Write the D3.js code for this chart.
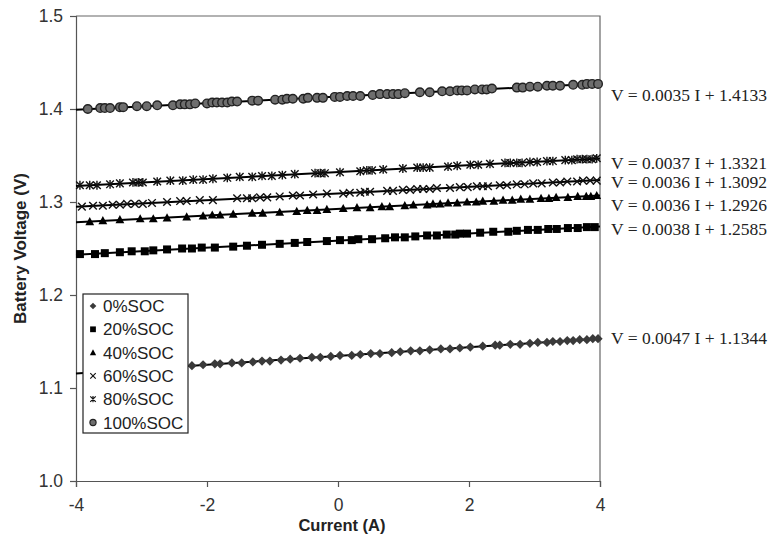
<!DOCTYPE html>
<html>
<head>
<meta charset="utf-8">
<script src="https://cdn.jsdelivr.net/npm/d3@7"></script>
<style>
  html, body { margin: 0; padding: 0; background: #fff; }
  svg { display: block; }
  .tick text { font-family: 'Liberation Sans', Arial, sans-serif; font-size: 17.5px; fill: #333; }
</style>
</head>
<body>
<div id="chart"></div>
<script>
// measured points, current (A) and voltage (V), one pair of arrays per state of charge
const soc0I = [-2.23, -2.06, -1.88, -1.80, -1.62, -1.47, -1.30, -1.16, -1.04, -0.87, -0.73, -0.58, -0.40, -0.27, -0.11, 0.03, 0.21, 0.34, 0.50, 0.64, 0.82, 0.95, 1.11, 1.25, 1.40, 1.57, 1.71, 1.86, 2.02, 2.21, 2.40, 2.47, 2.63, 2.78, 2.93, 3.05, 3.19, 3.28, 3.39, 3.50, 3.59, 3.69, 3.80, 3.89, 3.97];
const soc0V = [1.124, 1.125, 1.126, 1.126, 1.127, 1.127, 1.128, 1.129, 1.129, 1.130, 1.131, 1.132, 1.133, 1.133, 1.134, 1.135, 1.135, 1.136, 1.137, 1.137, 1.138, 1.139, 1.140, 1.140, 1.141, 1.142, 1.142, 1.143, 1.144, 1.145, 1.146, 1.146, 1.147, 1.147, 1.148, 1.149, 1.149, 1.150, 1.150, 1.151, 1.151, 1.152, 1.152, 1.153, 1.153];

const soc20I = [-3.94, -3.71, -3.56, -3.33, -3.15, -2.95, -2.82, -2.61, -2.38, -2.23, -2.08, -1.88, -1.60, -1.39, -1.16, -0.89, -0.66, -0.47, -0.17, 0.03, 0.21, 0.31, 0.52, 0.72, 0.87, 1.02, 1.18, 1.36, 1.51, 1.66, 1.79, 1.86, 1.97, 2.17, 2.37, 2.60, 2.73, 2.90, 3.05, 3.21, 3.34, 3.51, 3.66, 3.80, 3.92];
const soc20V = [1.244, 1.244, 1.245, 1.246, 1.247, 1.247, 1.248, 1.249, 1.250, 1.250, 1.251, 1.251, 1.252, 1.253, 1.254, 1.255, 1.256, 1.257, 1.258, 1.259, 1.259, 1.260, 1.260, 1.261, 1.262, 1.262, 1.263, 1.264, 1.264, 1.265, 1.265, 1.266, 1.266, 1.267, 1.268, 1.268, 1.269, 1.270, 1.270, 1.271, 1.271, 1.272, 1.272, 1.273, 1.273];

const soc40I = [-3.79, -3.59, -3.33, -3.02, -2.82, -2.61, -2.31, -2.06, -1.92, -1.80, -1.60, -1.31, -1.15, -0.89, -0.63, -0.47, -0.32, -0.17, 0.08, 0.29, 0.49, 0.67, 0.79, 1.02, 1.15, 1.36, 1.45, 1.56, 1.68, 1.82, 1.97, 2.11, 2.21, 2.38, 2.52, 2.66, 2.79, 2.93, 3.10, 3.22, 3.33, 3.51, 3.66, 3.79, 3.86, 3.95];
const soc40V = [1.279, 1.280, 1.281, 1.282, 1.282, 1.283, 1.284, 1.285, 1.286, 1.286, 1.287, 1.288, 1.288, 1.289, 1.290, 1.291, 1.291, 1.292, 1.293, 1.294, 1.294, 1.295, 1.295, 1.296, 1.297, 1.297, 1.298, 1.298, 1.299, 1.299, 1.300, 1.300, 1.301, 1.301, 1.302, 1.302, 1.303, 1.303, 1.304, 1.304, 1.305, 1.305, 1.306, 1.306, 1.306, 1.307];

const soc60I = [-3.91, -3.74, -3.59, -3.44, -3.33, -3.22, -3.10, -2.98, -2.84, -2.61, -2.41, -2.31, -2.11, -1.91, -1.54, -1.39, -1.31, -1.19, -1.08, -0.89, -0.69, -0.58, -0.38, -0.17, 0.08, 0.18, 0.34, 0.41, 0.49, 0.75, 0.84, 0.99, 1.10, 1.21, 1.30, 1.40, 1.51, 1.71, 1.86, 1.98, 2.12, 2.21, 2.29, 2.47, 2.58, 2.73, 2.85, 2.98, 3.11, 3.28, 3.39, 3.50, 3.65, 3.74, 3.85, 3.95];
const soc60V = [1.295, 1.296, 1.296, 1.297, 1.297, 1.298, 1.298, 1.298, 1.299, 1.300, 1.301, 1.301, 1.302, 1.302, 1.304, 1.304, 1.304, 1.305, 1.305, 1.306, 1.307, 1.307, 1.308, 1.309, 1.309, 1.310, 1.310, 1.311, 1.311, 1.312, 1.312, 1.313, 1.313, 1.314, 1.314, 1.314, 1.315, 1.315, 1.316, 1.316, 1.317, 1.317, 1.317, 1.318, 1.318, 1.319, 1.319, 1.320, 1.320, 1.321, 1.321, 1.322, 1.322, 1.323, 1.323, 1.323];

const soc80I = [-3.94, -3.79, -3.68, -3.48, -3.33, -3.13, -3.05, -2.98, -2.76, -2.56, -2.37, -2.21, -2.06, -1.91, -1.69, -1.50, -1.31, -1.16, -1.01, -0.85, -0.66, -0.35, -0.27, -0.20, 0.03, 0.34, 0.44, 0.52, 0.69, 0.99, 1.21, 1.30, 1.40, 1.68, 1.82, 2.02, 2.14, 2.32, 2.55, 2.63, 2.73, 2.81, 2.93, 3.04, 3.19, 3.28, 3.47, 3.57, 3.65, 3.73, 3.80, 3.88, 3.95];
const soc80V = [1.318, 1.318, 1.318, 1.319, 1.320, 1.321, 1.321, 1.321, 1.322, 1.323, 1.323, 1.324, 1.324, 1.325, 1.326, 1.327, 1.327, 1.328, 1.328, 1.329, 1.330, 1.331, 1.331, 1.331, 1.332, 1.333, 1.334, 1.334, 1.335, 1.336, 1.337, 1.337, 1.337, 1.338, 1.339, 1.340, 1.340, 1.341, 1.342, 1.342, 1.342, 1.342, 1.343, 1.343, 1.344, 1.344, 1.345, 1.345, 1.346, 1.346, 1.346, 1.346, 1.347];

const soc100I = [-3.82, -3.63, -3.56, -3.48, -3.33, -3.28, -3.07, -2.92, -2.76, -2.52, -2.41, -2.34, -2.26, -2.18, -2.00, -1.92, -1.85, -1.77, -1.69, -1.62, -1.54, -1.31, -1.22, -0.96, -0.85, -0.78, -0.69, -0.53, -0.46, -0.32, -0.23, -0.05, 0.03, 0.14, 0.23, 0.34, 0.53, 0.64, 0.75, 0.84, 0.92, 1.02, 1.25, 1.40, 1.59, 1.71, 1.82, 1.89, 1.97, 2.09, 2.20, 2.27, 2.35, 2.73, 2.82, 2.93, 3.05, 3.19, 3.28, 3.39, 3.59, 3.73, 3.80, 3.88, 3.97];
const soc100V = [1.400, 1.401, 1.401, 1.401, 1.402, 1.402, 1.403, 1.403, 1.404, 1.404, 1.405, 1.405, 1.405, 1.406, 1.406, 1.407, 1.407, 1.407, 1.407, 1.408, 1.408, 1.409, 1.409, 1.410, 1.410, 1.411, 1.411, 1.411, 1.412, 1.412, 1.412, 1.413, 1.413, 1.414, 1.414, 1.414, 1.415, 1.416, 1.416, 1.416, 1.416, 1.417, 1.418, 1.418, 1.419, 1.419, 1.420, 1.420, 1.420, 1.421, 1.421, 1.421, 1.422, 1.423, 1.423, 1.424, 1.424, 1.425, 1.425, 1.425, 1.426, 1.426, 1.427, 1.427, 1.427];

// linear fits V = slope * I + intercept, as printed on the chart
const seriesNames = ['0%SOC', '20%SOC', '40%SOC', '60%SOC', '80%SOC', '100%SOC'];
const fitSlopes = [0.0047, 0.0038, 0.0036, 0.0036, 0.0037, 0.0035];
const fitIntercepts = [1.1344, 1.2585, 1.2926, 1.3092, 1.3321, 1.4133];

const xTicks = [-4, -2, 0, 2, 4];
const yTicks = [1.0, 1.1, 1.2, 1.3, 1.4, 1.5];

const width = 771;
const height = 537;
const margin = { top: 16, right: 171, bottom: 56, left: 76 };

const pointsI = [soc0I, soc20I, soc40I, soc60I, soc80I, soc100I];
const pointsV = [soc0V, soc20V, soc40V, soc60V, soc80V, soc100V];
const series = seriesNames.map((name, k) => ({
  name,
  slope: fitSlopes[k],
  intercept: fitIntercepts[k],
  points: pointsI[k].map((c, i) => ({ c, v: pointsV[k][i] })),
}));

// marker shapes, drawn through d3.symbol with custom types
const shape = draw => ({ draw });
const markers = {
  '0%SOC': { type: shape(p => { p.moveTo(0, -4.6); p.lineTo(4.6, 0); p.lineTo(0, 4.6); p.lineTo(-4.6, 0); p.closePath(); }), fill: '#3a3a3a', stroke: 'none' },
  '20%SOC': { type: shape(p => { p.rect(-4, -4, 8, 8); }), fill: '#000', stroke: 'none' },
  '40%SOC': { type: shape(p => { p.moveTo(0, -4.6); p.lineTo(4.4, 3.6); p.lineTo(-4.4, 3.6); p.closePath(); }), fill: '#000', stroke: 'none' },
  '60%SOC': { type: shape(p => { p.moveTo(-3.8, -3.8); p.lineTo(3.8, 3.8); p.moveTo(-3.8, 3.8); p.lineTo(3.8, -3.8); }), fill: 'none', stroke: '#111' },
  '80%SOC': { type: shape(p => { p.moveTo(-3.8, -3.8); p.lineTo(3.8, 3.8); p.moveTo(-3.8, 3.8); p.lineTo(3.8, -3.8); p.moveTo(0, -4.4); p.lineTo(0, 4.4); }), fill: 'none', stroke: '#111' },
  '100%SOC': { type: shape(p => { p.moveTo(4.3, 0); p.arc(0, 0, 4.3, 0, 2 * Math.PI); }), fill: '#6e6e6e', stroke: '#222' },
};
// manual offsets of the equation labels from the end of each fit line (px)
const labelDy = [-1, 2, 9.5, 2, 4, 11.5];

const svg = d3.select('#chart').append('svg')
  .attr('width', width)
  .attr('height', height);

const x = d3.scaleLinear().domain([-4, 4]).range([margin.left, width - margin.right]);
const y = d3.scaleLinear().domain([1.0, 1.5]).range([height - margin.bottom, margin.top]);

// plot frame (top and right)
svg.append('path')
  .attr('fill', 'none')
  .attr('stroke', '#666')
  .attr('stroke-width', 1.2)
  .attr('d', `M${x(-4)},${y(1.5)}H${x(4)}V${y(1.0)}`);

const xAxis = svg.append('g')
  .attr('transform', `translate(0,${y(1.0)})`)
  .call(d3.axisBottom(x).tickValues(xTicks).tickSize(6).tickPadding(12).tickFormat(d => String(d)));
const yAxis = svg.append('g')
  .attr('transform', `translate(${x(-4)},0)`)
  .call(d3.axisLeft(y).tickValues(yTicks).tickSize(6).tickPadding(7).tickFormat(d3.format('.1f')));
[xAxis, yAxis].forEach(g => {
  g.select('.domain').attr('stroke', '#555').attr('stroke-width', 1.2);
  g.selectAll('.tick line').attr('stroke', '#555').attr('stroke-width', 1.2);
});

// fit lines
const line = d3.line().x(d => x(d[0])).y(d => y(d[1]));
svg.append('g')
  .selectAll('path')
  .data(series)
  .join('path')
  .attr('fill', 'none')
  .attr('stroke', '#000')
  .attr('stroke-width', 2)
  .attr('d', s => line(x.domain().map(c => [c, s.slope * c + s.intercept])));

// measured points
const symbolFor = name => d3.symbol().type(markers[name].type)();
series.forEach(s => {
  const m = markers[s.name];
  svg.append('g')
    .selectAll('path')
    .data(s.points)
    .join('path')
    .attr('transform', d => `translate(${x(d.c)},${y(d.v)})`)
    .attr('d', symbolFor(s.name))
    .attr('fill', m.fill)
    .attr('stroke', m.stroke)
    .attr('stroke-width', 1.4);
});

// equation labels
const fmt = d3.format('.4f');
svg.append('g')
  .selectAll('text')
  .data(series)
  .join('text')
  .attr('x', x(4) + 11)
  .attr('y', (s, k) => y(s.slope * 4 + s.intercept) + labelDy[k])
  .attr('dy', '0.35em')
  .style('font-family', "'Liberation Serif', 'Times New Roman', serif")
  .style('font-size', '17.5px')
  .attr('fill', '#222')
  .text(s => `V = ${fmt(s.slope)} I + ${fmt(s.intercept)}`);

// legend
const legend = svg.append('g').attr('transform', 'translate(83,294)');
legend.append('rect')
  .attr('width', 105)
  .attr('height', 139)
  .attr('fill', '#fff')
  .attr('stroke', '#222')
  .attr('stroke-width', 1.2);
const items = legend.selectAll('g')
  .data(series)
  .join('g')
  .attr('transform', (s, k) => `translate(0,${12 + k * 23.3})`);
items.append('path')
  .attr('transform', 'translate(10,0) scale(0.72)')
  .attr('d', s => symbolFor(s.name))
  .attr('fill', s => markers[s.name].fill)
  .attr('stroke', s => markers[s.name].stroke)
  .attr('stroke-width', 1.6);
items.append('text')
  .attr('x', 20)
  .attr('dy', '0.36em')
  .style('font-family', "'Liberation Sans', Arial, sans-serif")
  .style('font-size', '17px')
  .attr('fill', '#222')
  .text(s => s.name);

// axis titles
svg.append('text')
  .attr('x', (x(-4) + x(4)) / 2 + 4)
  .attr('y', 531)
  .attr('text-anchor', 'middle')
  .style('font-family', "'Liberation Sans', Arial, sans-serif")
  .style('font-size', '16.5px')
  .style('font-weight', 'bold')
  .attr('fill', '#222')
  .text('Current (A)');
svg.append('text')
  .attr('transform', `translate(26,${(y(1.0) + y(1.5)) / 2}) rotate(-90)`)
  .attr('text-anchor', 'middle')
  .style('font-family', "'Liberation Sans', Arial, sans-serif")
  .style('font-size', '17px')
  .style('font-weight', 'bold')
  .attr('fill', '#222')
  .text('Battery Voltage (V)');
</script>
</body>
</html>
